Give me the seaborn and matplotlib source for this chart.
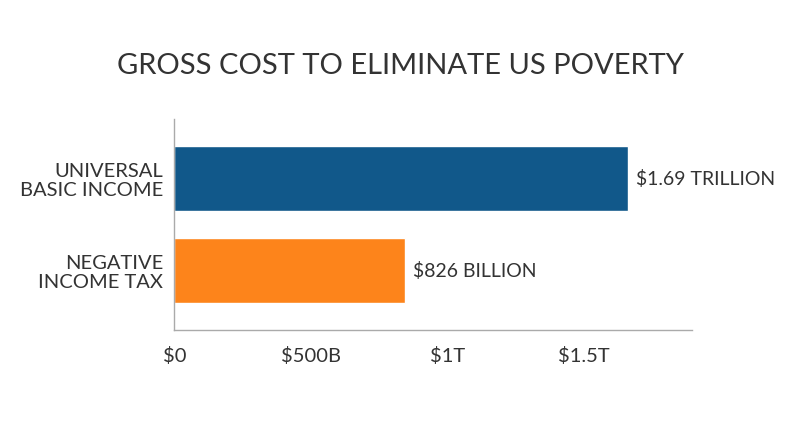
import matplotlib
matplotlib.use("Agg")
import matplotlib.pyplot as plt
import seaborn as sns
import pandas as pd

# values in trillions of dollars, as drawn
programs = ["UNIVERSAL\nBASIC INCOME", "NEGATIVE\nINCOME TAX"]
cost_trillions = [1.66, 0.845]
value_labels = ["$1.69 TRILLION", "$826 BILLION"]
bar_colors = ["#11588A", "#FD841B"]
tick_values = [0, 0.5, 1.0, 1.5]
tick_labels = ["$0", "$500B", "$1T", "$1.5T"]

df = pd.DataFrame({"program": programs, "cost": cost_trillions})

sns.set_style("white")
plt.rcParams['font.family'] = ['Lato', 'DejaVu Sans']

fig = plt.figure(figsize=(8, 4.47), dpi=100)
ax = fig.add_axes([0.2179, 0.2617, 0.6471, 0.4720])

sns.barplot(data=df, x="cost", y="program", hue="program", palette=bar_colors,
            width=0.707, legend=False, ax=ax, saturation=1)

ax.set_xlim(0, 1.896)
ax.set_ylim(1.647, -0.647)

# value labels next to bars
for i, (v, lab) in enumerate(zip(cost_trillions, value_labels)):
    ax.text(v + 0.03, i, lab, va="center", ha="left", fontsize=14, color="#333333")

ax.set_xticks(tick_values)
ax.set_xticklabels(tick_labels, fontsize=14.5, color="#333333")
ax.tick_params(axis="x", direction="in", length=6.5, color="#aaaaaa", pad=12)
ax.tick_params(axis="y", length=0, pad=8, labelsize=14.5, labelcolor="#333333")
for lab in ax.get_yticklabels():
    lab.set_horizontalalignment("right")
    lab.set_linespacing(1.12)

ax.set_xlabel("")
ax.set_ylabel("")
for side in ["top", "right"]:
    ax.spines[side].set_visible(False)
for side in ["left", "bottom"]:
    ax.spines[side].set_color("#aaaaaa")
    ax.spines[side].set_linewidth(1)

fig.text(0.5, 0.852, "GROSS COST TO ELIMINATE US POVERTY", ha="center", va="center",
         fontsize=21, color="#333333")

fig.savefig("out.png", dpi=100, facecolor="white")
